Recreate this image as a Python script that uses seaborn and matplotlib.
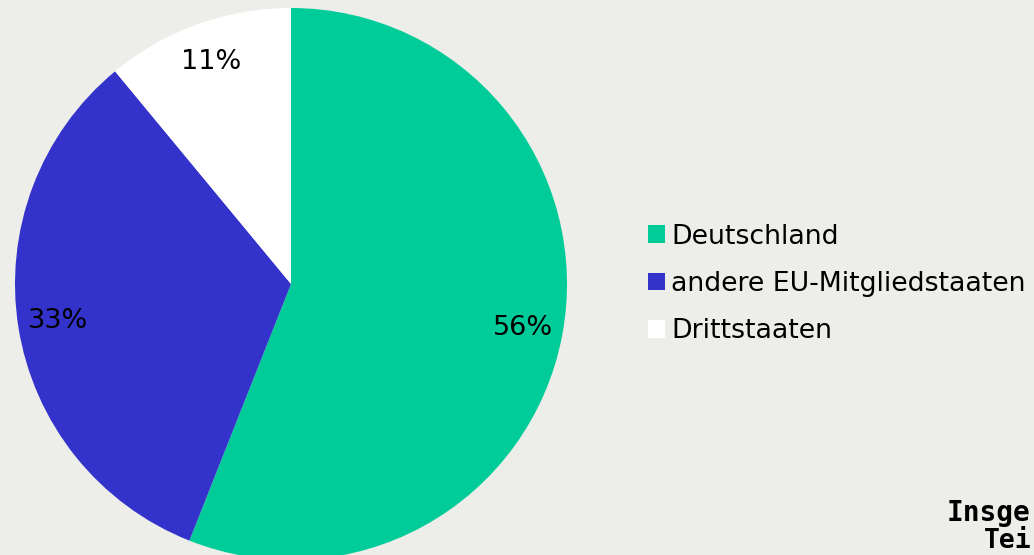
import matplotlib
matplotlib.use("Agg")
import matplotlib.pyplot as plt
import seaborn as sns

# Daten
labels = ["Deutschland", "andere EU-Mitgliedstaaten", "Drittstaaten"]
anteile = [56, 33, 11]
farben = ["#00CC99", "#3333CC", "#FFFFFF"]
bg = "#EDEDE9"

sns.set_style("white", rc={"figure.facecolor": bg, "axes.facecolor": bg,
                           "text.color": "black"})
plt.rcParams["font.family"] = ["DejaVu Sans"]

fig = plt.figure(figsize=(10.34, 5.55), dpi=100)
# pie axes: center (291, 284) px, radius 276 px
W, H = 1034, 555
cx, cy, r = 291, 284, 276
ax = fig.add_axes([(cx - r) / W, 1 - (cy + r) / H, 2 * r / W, 2 * r / H])

wedges, texts, autotexts = ax.pie(
    anteile, colors=sns.color_palette(farben), startangle=90, counterclock=False,
    autopct="%d%%", pctdistance=0.855, radius=1,
    wedgeprops={"linewidth": 0},
    textprops={"fontsize": 19.5, "color": "black"})
ax.set_xlim(-1, 1)
ax.set_ylim(-1, 1)
ax.set_aspect("equal")
ax.axis("off")

fig.legend(wedges, labels, loc="center left",
           bbox_to_anchor=(648 / W, 1 - 284 / H), frameon=False,
           fontsize=19.3, handlelength=0.62, handleheight=0.62,
           handletextpad=0.25, labelspacing=0.8, borderpad=0, borderaxespad=0,
           labelcolor="black")

# unterer Text (im Original am Rand abgeschnitten)
fig.text(947 / W, 1 - 521 / H, "Insge", fontsize=20, fontweight="bold",
         family="DejaVu Sans Mono", ha="left", va="baseline", color="black")
fig.text(984 / W, 1 - 548 / H, "Tei", fontsize=19, fontweight="bold",
         family="DejaVu Sans Mono", ha="left", va="baseline", color="black")

fig.savefig("out.png", dpi=100, facecolor=bg)
